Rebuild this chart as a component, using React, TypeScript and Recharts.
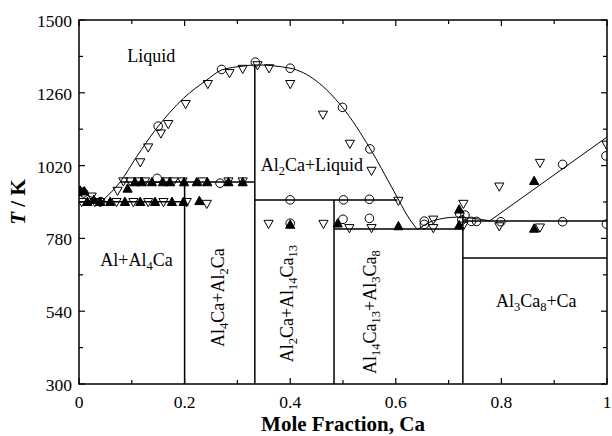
import React from 'react';
import { ComposedChart, XAxis, YAxis, Scatter, Line, ReferenceLine, ReferenceArea, ReferenceDot } from 'recharts';

const W = 612;
const H = 436;
const PLOT = { top: 20, right: 5, bottom: 52, left: 79 };
const AXIS_SIZE = 2;
const M = { top: PLOT.top, right: PLOT.right, bottom: PLOT.bottom - AXIS_SIZE, left: PLOT.left - AXIS_SIZE };
const PW = W - PLOT.left - PLOT.right;
const PH = H - PLOT.top - PLOT.bottom;
const FONT = '"Liberation Serif", "Times New Roman", Times, serif';

const xTicks = [0, 0.1, 0.2, 0.3, 0.4, 0.5, 0.6, 0.7, 0.8, 0.9, 1];
const xTickLabels = ['0', '', '0.2', '', '0.4', '', '0.6', '', '0.8', '', '1'];
const yTicks = [300, 420, 540, 660, 780, 900, 1020, 1140, 1260, 1380, 1500];
const yTickLabels = ['300', '', '540', '', '780', '', '1020', '', '1260', '', '1500'];

const circles = [
  [0.002, 935], [0.009, 930], [0.041, 901], [0.148, 978], [0.150, 1150], [0.267, 962],
  [0.270, 1337], [0.334, 1361], [0.400, 1341], [0.499, 1212], [0.551, 1075],
  [0.400, 907], [0.501, 907], [0.550, 909], [0.400, 830], [0.500, 843], [0.550, 846],
  [0.654, 837], [0.654, 826], [0.721, 862], [0.731, 857], [0.725, 840], [0.743, 836],
  [0.753, 836], [0.799, 835], [0.916, 835], [0.999, 827], [0.916, 1024], [0.998, 1052],
].map(([x, y]) => ({ x, y }));

const downTriangles = [
  [0.073, 936], [0.116, 1030], [0.131, 1079], [0.155, 1125], [0.169, 1156], [0.202, 1222],
  [0.244, 1288], [0.285, 1324], [0.310, 1338], [0.338, 1350], [0.360, 1340], [0.400, 1288],
  [0.462, 1187], [0.513, 1091], [0.554, 1002], [0.605, 903], [0.796, 950], [0.873, 1028],
  [0.999, 1088],
  [0.084, 967], [0.097, 967], [0.112, 967], [0.125, 967], [0.166, 967], [0.179, 967],
  [0.196, 967], [0.234, 967], [0.283, 967], [0.310, 967],
  [0.005, 899], [0.030, 899], [0.040, 899], [0.071, 899], [0.103, 899], [0.131, 899],
  [0.160, 899], [0.204, 899], [0.242, 893], [0.024, 917],
  [0.359, 827], [0.463, 827], [0.512, 813], [0.554, 813], [0.671, 841], [0.671, 813],
  [0.728, 893], [0.728, 821], [0.796, 819], [0.873, 815],
].map(([x, y]) => ({ x, y }));

const upTriangles = [
  [0.092, 945], [0.106, 966], [0.119, 966], [0.138, 966], [0.159, 966], [0.172, 966],
  [0.199, 966], [0.223, 966], [0.243, 966], [0.283, 966], [0.310, 966],
  [0.016, 901], [0.040, 901], [0.059, 901], [0.087, 901], [0.116, 901], [0.144, 901],
  [0.176, 901], [0.198, 901], [0.228, 904],
  [0.002, 938], [0.010, 936], [0.028, 908],
  [0.400, 826], [0.490, 830], [0.605, 821], [0.720, 876], [0.720, 824], [0.862, 970], [0.862, 813],
].map(([x, y]) => ({ x, y }));

const boundaries = [
  [[0, 901], [0.2, 901]],
  [[0.2, 300], [0.2, 966]],
  [[0.078, 966], [0.333, 966]],
  [[0.333, 300], [0.333, 1352]],
  [[0.333, 907], [0.603, 907]],
  [[0.483, 300], [0.483, 907]],
  [[0.483, 811], [0.727, 811]],
  [[0.727, 300], [0.727, 858]],
  [[0.727, 837], [1, 837]],
  [[0.727, 715], [1, 715]],
];

const liquidusLeft = [[0, 935], [0.042, 901]].map(([x, y]) => ({ x, y }));
const liquidusMain = [
  [0.042, 901], [0.078, 966], [0.109, 1049], [0.147, 1143], [0.198, 1242], [0.242, 1302],
  [0.270, 1335], [0.311, 1348], [0.334, 1352], [0.400, 1341], [0.499, 1212], [0.551, 1077],
  [0.595, 940], [0.627, 841], [0.641, 809],
].map(([x, y]) => ({ x, y }));
const liquidusMid = [[0.641, 809], [0.671, 838], [0.715, 850], [0.778, 838]].map(([x, y]) => ({ x, y }));
const liquidusRight = [[0.778, 838], [1, 1114]].map(([x, y]) => ({ x, y }));

const regionLabels = [
  { text: 'Liquid', x: 0.137, y: 1360, rot: false },
  { text: 'Al_2Ca+Liquid', x: 0.441, y: 1003, rot: false },
  { text: 'Al+Al_4Ca', x: 0.109, y: 690, rot: false },
  { text: 'Al_3Ca_8+Ca', x: 0.866, y: 553, rot: false },
  { text: 'Al_4Ca+Al_2Ca', x: 0.2746, y: 585, rot: true },
  { text: 'Al_2Ca+Al_14Ca_13', x: 0.405, y: 565, rot: true },
  { text: 'Al_14Ca_13+Al_3Ca_8', x: 0.5634, y: 537, rot: true },
];

const renderRich = (text: string) => {
  const parts = text.split(/_(\d+)/);
  const out: any[] = [];
  let shifted = false;
  parts.forEach((p, i) => {
    if (p === '') return;
    const sub = i % 2 === 1;
    let dy = 0;
    if (sub && !shifted) { dy = 4; shifted = true; }
    else if (!sub && shifted) { dy = -4; shifted = false; }
    out.push(
      <tspan key={i} dy={dy} fontSize={sub ? 12.5 : 18}>{p}</tspan>
    );
  });
  return out;
};

const makeLabelShape = (text: string, rot: boolean) => (props: any) => {
  const { cx, cy } = props;
  return (
    <text
      x={cx}
      y={cy}
      textAnchor="middle"
      style={{ fontFamily: FONT }}
      fontSize={18}
      fill="#000"
      transform={rot ? `rotate(-90, ${cx}, ${cy})` : undefined}
    >
      {renderRich(text)}
    </text>
  );
};

const XTick = (props: any) => {
  const { x, payload } = props;
  const axisY = PLOT.top + PH;
  const label = xTickLabels[xTicks.indexOf(payload.value)] ?? '';
  const len = label !== '' ? 6 : 4;
  return (
    <g>
      <line x1={x} x2={x} y1={axisY} y2={axisY - len} stroke="#000" strokeWidth={1.2} />
      <line x1={x} x2={x} y1={PLOT.top} y2={PLOT.top + len} stroke="#000" strokeWidth={1.2} />
      {label !== '' && (
        <text x={x} y={axisY + 24} textAnchor="middle" style={{ fontFamily: FONT, fontSize: 17.5 }} fill="#000">
          {label}
        </text>
      )}
    </g>
  );
};

const YTick = (props: any) => {
  const { y, payload } = props;
  const axisX = PLOT.left;
  const label = yTickLabels[yTicks.indexOf(payload.value)] ?? '';
  const len = label !== '' ? 6 : 4;
  return (
    <g>
      <line x1={axisX} x2={axisX + len} y1={y} y2={y} stroke="#000" strokeWidth={1.2} />
      <line x1={axisX + PW} x2={axisX + PW - len} y1={y} y2={y} stroke="#000" strokeWidth={1.2} />
      {label !== '' && (
        <text x={axisX - 7} y={y + 7} textAnchor="end" style={{ fontFamily: FONT, fontSize: 17.5 }} fill="#000">
          {label}
        </text>
      )}
    </g>
  );
};

const CircleShape = (props: any) => {
  const { cx, cy } = props;
  return <circle cx={cx} cy={cy} r={4.3} fill="none" stroke="#000" strokeWidth={1} />;
};
const DownTri = (props: any) => {
  const { cx, cy } = props;
  return (
    <polygon
      points={`${cx - 4.6},${cy - 3.8} ${cx + 4.6},${cy - 3.8} ${cx},${cy + 4.4}`}
      fill="none" stroke="#000" strokeWidth={1}
    />
  );
};
const UpTri = (props: any) => {
  const { cx, cy } = props;
  return (
    <polygon
      points={`${cx - 4.6},${cy + 3.8} ${cx + 4.6},${cy + 3.8} ${cx},${cy - 4.6}`}
      fill="#000" stroke="#000" strokeWidth={1}
    />
  );
};

const YLabel = () => {
  const cx = 18;
  const cy = PLOT.top + PH / 2;
  return (
    <text x={cx} y={cy} textAnchor="middle" style={{ fontFamily: FONT, fontSize: 21, fontWeight: 'bold' }}
      fill="#000" transform={`rotate(-90, ${cx}, ${cy})`} dy={7}>
      <tspan fontStyle="italic">T</tspan>
      <tspan> / K</tspan>
    </text>
  );
};

const XLabel = () => {
  const cx = PLOT.left + PW / 2;
  return (
    <text x={cx} y={H - 5} textAnchor="middle" style={{ fontFamily: FONT, fontSize: 21, fontWeight: 'bold' }} fill="#000">
      Mole Fraction, Ca
    </text>
  );
};

export default function App() {
  return (
    <div style={{ position: 'absolute', left: 0, top: 0, width: W, height: H, background: '#fff', fontFamily: FONT }}>
      <ComposedChart width={W} height={H} margin={M}>
        <XAxis
          type="number" dataKey="x" domain={[0, 1]} ticks={xTicks} interval={0}
          tick={XTick} tickLine={false} axisLine={false} height={AXIS_SIZE}
          allowDataOverflow label={XLabel}
        />
        <YAxis
          type="number" dataKey="y" domain={[300, 1500]} ticks={yTicks} interval={0}
          tick={YTick} tickLine={false} axisLine={false} width={AXIS_SIZE}
          allowDataOverflow label={YLabel}
        />
        <ReferenceArea x1={0} x2={1} y1={300} y2={1500} fill="none" stroke="#000" strokeWidth={1.5} fillOpacity={0} />
        {boundaries.map((seg, i) => (
          <ReferenceLine
            key={i}
            segment={[{ x: seg[0][0], y: seg[0][1] }, { x: seg[1][0], y: seg[1][1] }]}
            stroke="#000" strokeWidth={1.5}
          />
        ))}
        <Line data={liquidusLeft} dataKey="y" type="linear" stroke="#000" strokeWidth={1} dot={false} isAnimationActive={false} />
        <Line data={liquidusMain} dataKey="y" type="monotone" stroke="#000" strokeWidth={1} dot={false} isAnimationActive={false} />
        <Line data={liquidusMid} dataKey="y" type="monotone" stroke="#000" strokeWidth={1} dot={false} isAnimationActive={false} />
        <Line data={liquidusRight} dataKey="y" type="linear" stroke="#000" strokeWidth={1} dot={false} isAnimationActive={false} />
        <Scatter data={circles} dataKey="y" shape={CircleShape} isAnimationActive={false} />
        <Scatter data={downTriangles} dataKey="y" shape={DownTri} isAnimationActive={false} />
        <Scatter data={upTriangles} dataKey="y" shape={UpTri} isAnimationActive={false} />
        {regionLabels.map((l, i) => (
          <ReferenceDot key={i} x={l.x} y={l.y} r={0} shape={makeLabelShape(l.text, l.rot)} />
        ))}
      </ComposedChart>
    </div>
  );
}
